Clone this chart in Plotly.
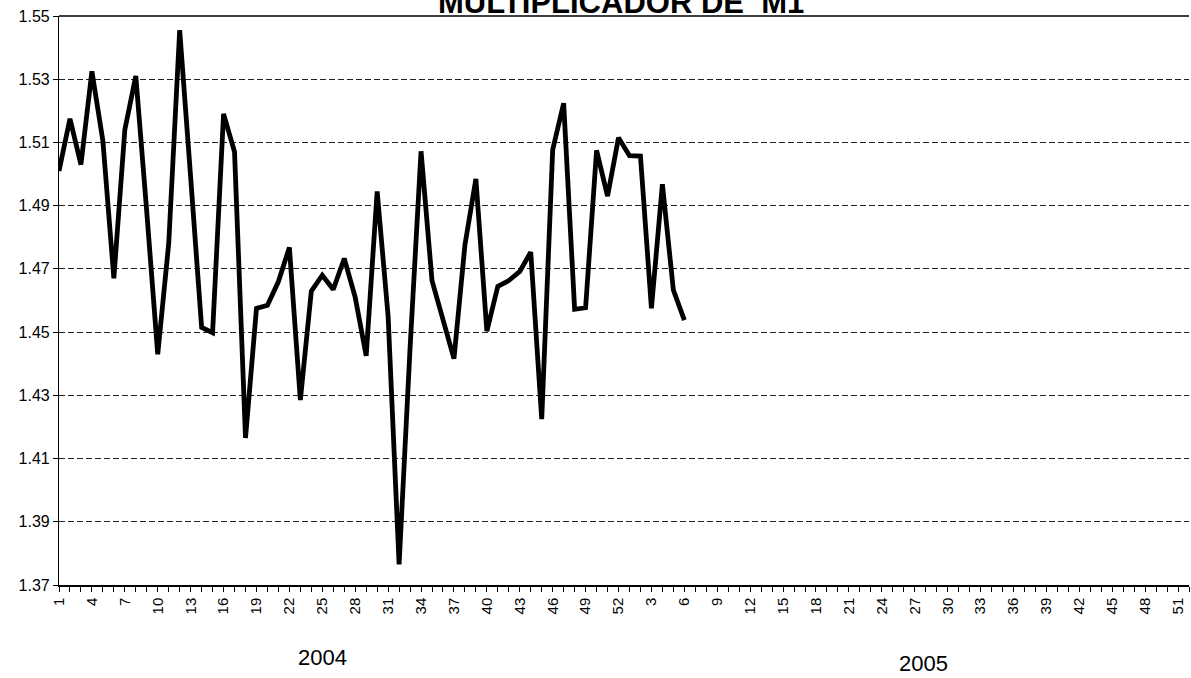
import plotly.graph_objects as go

# ---- data ----
weeks_2004 = list(range(1, 53))
weeks_2005 = list(range(1, 53))
categories = [f"2004-{w:02d}" for w in weeks_2004] + [f"2005-{w:02d}" for w in weeks_2005]
week_labels = [str(w) for w in weeks_2004] + [str(w) for w in weeks_2005]

values_2004 = [
    1.501, 1.5175, 1.503, 1.5325, 1.5105, 1.467, 1.514, 1.531, 1.488, 1.443,
    1.478, 1.5455, 1.499, 1.4515, 1.4498, 1.519, 1.507, 1.4165, 1.4575, 1.4585,
    1.466, 1.4768, 1.4285, 1.463, 1.468, 1.4635, 1.4733, 1.461, 1.4425, 1.4945,
    1.455, 1.3765, 1.445, 1.5072, 1.4663, 1.454, 1.4416, 1.4775, 1.4985, 1.4503,
    1.4645, 1.4663, 1.4692, 1.4753, 1.4225, 1.5077, 1.5224, 1.4572, 1.4577, 1.5075,
    1.493, 1.5115,
]
values_2005 = [1.5058, 1.5057, 1.4575, 1.4968, 1.4633, 1.4538]
values = values_2004 + values_2005

y_ticks = [1.37, 1.39, 1.41, 1.43, 1.45, 1.47, 1.49, 1.51, 1.53, 1.55]
title_text = "MULTIPLICADOR DE  M1"
year_labels = ["2004", "2005"]

# ---- positions from the category list ----
pos = {c: i for i, c in enumerate(categories)}
xs = [pos[c] for c in categories[:len(values)]]
label_idx = list(range(0, len(categories), 3))

FONT = "Arial, Liberation Sans, sans-serif"

fig = go.Figure()
fig.add_trace(go.Scatter(
    x=xs, y=values, mode="lines",
    line=dict(color="black", width=4.8),
    hoverinfo="skip", showlegend=False,
))

fig.update_layout(
    width=1191, height=678,
    margin=dict(l=59, r=2, t=16, b=93, autoexpand=False),
    paper_bgcolor="white", plot_bgcolor="white",
    font=dict(family=FONT, color="black"),
    xaxis=dict(
        range=[0, len(categories) - 1],
        automargin=False,
        tickmode="array",
        tickvals=label_idx,
        ticktext=[week_labels[i] for i in label_idx],
        tickangle=-90,
        tickfont=dict(size=15, family=FONT, color="black"),
        ticks="outside", ticklen=5, tickcolor="black", tickwidth=1,
        minor=dict(tickmode="linear", tick0=0, dtick=1, ticks="outside",
                   ticklen=5, tickcolor="black", tickwidth=1),
        showline=True, linecolor="black", linewidth=1.5,
        showgrid=False, zeroline=False,
    ),
    xaxis2=dict(
        range=[0, len(categories) - 1],
        automargin=False,
        overlaying="x", anchor="y",
        tickmode="linear", tick0=0, dtick=1,
        ticks="inside", ticklen=5, tickcolor="black", tickwidth=1,
        showticklabels=False, showline=False, showgrid=False, zeroline=False,
    ),
    yaxis=dict(
        range=[1.37, 1.55],
        automargin=False,
        tickmode="array", tickvals=y_ticks,
        ticktext=[f"{v:.2f}" for v in y_ticks],
        tickfont=dict(size=16, family=FONT, color="black"),
        ticks="outside", ticklen=5, tickcolor="black",
        showline=True, linecolor="black", linewidth=1.2,
        showgrid=True, gridcolor="#222222", gridwidth=1, griddash="6px,3px",
        zeroline=False,
    ),
    shapes=[dict(type="line", xref="paper", yref="paper", x0=0, x1=1, y0=1, y1=1,
                 line=dict(color="black", width=1.5))],
    annotations=[
        dict(text=f"<b>{title_text}</b>", xref="paper", yref="paper",
             x=0.497, y=1, yshift=14, yanchor="middle", xanchor="center",
             showarrow=False, font=dict(size=31, family=FONT, color="black")),
        dict(text=year_labels[0], xref="paper", yref="paper", x=0.233, y=0,
             yshift=-72, yanchor="middle", xanchor="center", showarrow=False,
             font=dict(size=22, family=FONT, color="black")),
        dict(text=year_labels[1], xref="paper", yref="paper", x=0.765, y=0,
             yshift=-78, yanchor="middle", xanchor="center", showarrow=False,
             font=dict(size=22, family=FONT, color="black")),
    ],
)

fig.write_html(
    "out.html",
    config={"displayModeBar": False},
    post_script="document.body.style.margin='0px';document.body.style.overflow='hidden';",
)
